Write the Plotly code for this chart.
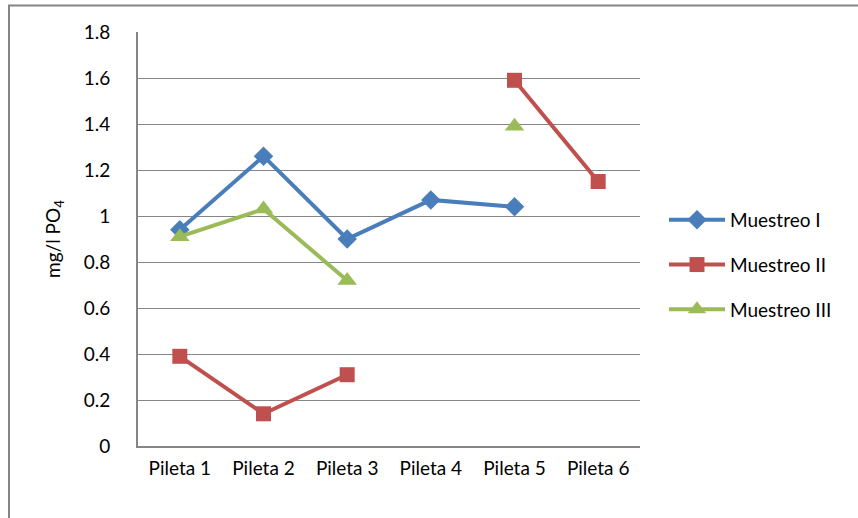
import plotly.graph_objects as go

# Phosphate concentration (mg/l PO4) per pond, three sampling campaigns
piletas = ["Pileta 1", "Pileta 2", "Pileta 3", "Pileta 4", "Pileta 5", "Pileta 6"]
muestreo_1 = [0.94, 1.26, 0.90, 1.07, 1.04, None]
muestreo_2 = [0.39, 0.14, 0.31, None, 1.59, 1.15]
muestreo_3 = [0.91, 1.03, 0.72, None, 1.39, None]

W, H = 858, 518
L, R, T, B = 138, 218, 32, 72
pw, ph = W - L - R, H - T - B

font = "Lato, Calibri, Carlito, sans-serif"
fs = 19

series = [
    ("Muestreo I", muestreo_1, "#4A7EBB", "diamond", 15),
    ("Muestreo II", muestreo_2, "#C0504D", "square", 15),
    ("Muestreo III", muestreo_3, "#9BBB59", "triangle-up", 17),
]

fig = go.Figure()
for i, (name, vals, color, sym, size) in enumerate(series):
    fig.add_trace(go.Scatter(
        x=piletas, y=vals, name=name, mode="lines+markers",
        line=dict(color=color, width=4),
        marker=dict(symbol=sym, size=size, color=color),
        connectgaps=False, legendgroup=f"g{i}",
    ))

fig.update_layout(
    width=W, height=H,
    margin=dict(l=L, r=R, t=T, b=B),
    paper_bgcolor="white", plot_bgcolor="white",
    font=dict(family=font, size=fs, color="#000000"),
    showlegend=True,
    legend=dict(
        x=(664 - L) / pw, y=(446 - 201) / ph, xanchor="left", yanchor="top",
        traceorder="grouped", tracegroupgap=17, itemwidth=56,
        font=dict(size=fs), bgcolor="rgba(0,0,0,0)",
    ),
    xaxis=dict(
        type="category", showgrid=False, showline=True, linecolor="#868686",
        linewidth=2, ticks="", tickfont=dict(size=fs), ticklabelstandoff=4,
        range=[-0.5, 5.5], fixedrange=True,
    ),
    yaxis=dict(
        range=[0, 1.8], dtick=0.2, showgrid=True, gridcolor="#868686",
        gridwidth=1, showline=True, linecolor="#868686", linewidth=2,
        ticks="", tickfont=dict(size=fs), ticklabelstandoff=22,
        zeroline=False,
        title=dict(text="mg/l PO<sub>4</sub>", font=dict(size=fs), standoff=18),
    ),
    shapes=[
        # outer chart frame
        dict(type="rect", xref="paper", yref="paper",
             x0=(9 - L) / pw, x1=(W + 5 - L) / pw,
             y0=-(H + 5 - T - ph) / ph, y1=(ph + T - 5.5) / ph,
             line=dict(color="#868686", width=2), layer="below"),
    ],
)

fig.write_html("out.html")
